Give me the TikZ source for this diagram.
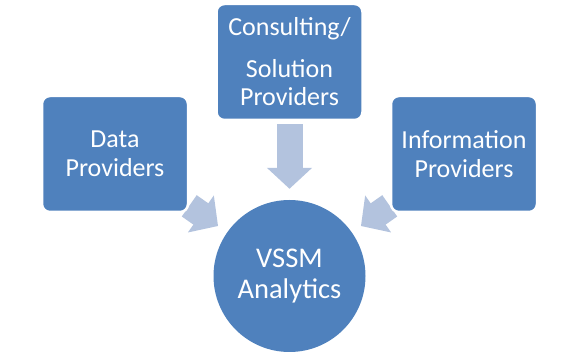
\documentclass[tikz,border=0pt]{standalone}
\usepackage{fontspec}
\setmainfont{Carlito}
\usepackage{xcolor}
\usetikzlibrary{arrows.meta, positioning, backgrounds}
\definecolor{boxblue}{HTML}{4F81BD}
\definecolor{arrowblue}{HTML}{B3C3DE}

\begin{document}
\begin{tikzpicture}[x=1pt, y=-1pt,
    box/.style={rectangle, draw=white, line width=2.5pt, rounded corners=8pt, fill=boxblue,
                minimum width=146pt, minimum height=116pt, inner sep=0pt, align=center,
                text=white, font=\fontsize{26}{28.5}\selectfont},
    hub/.style={circle, fill=boxblue, minimum size=152pt, inner sep=0pt, align=center,
                text=white, font=\fontsize{28.5}{31}\selectfont},
    flow/.style={draw=arrowblue, line width=26pt, -{Triangle[width=44pt, length=21pt]},
                 shorten >=11pt}
]
\useasboundingbox (0,0) rectangle (576,355);
\node[box] (data)    at (115,154)   {Data\\Providers};
\node[box] (consult) at (289.5,62)  {Consulting/\\[13pt]Solution\\Providers};
\node[box] (info)    at (464,154)   {Information\\Providers};
\node[hub] (vssm)    at (289.5,276) {VSSM\\Analytics};

\begin{scope}[on background layer]
\draw[flow] (data)    -- (vssm);
\draw[flow, shorten <=3pt] (consult) -- (vssm);
\draw[flow] (info)    -- (vssm);
\end{scope}
\end{tikzpicture}
\end{document}
